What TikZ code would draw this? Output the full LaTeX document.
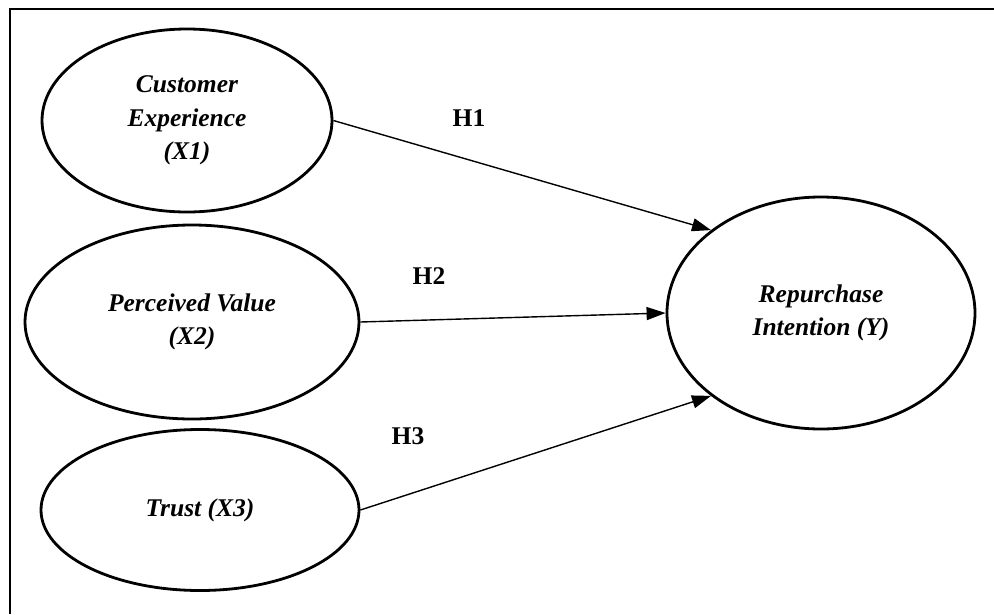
\documentclass[tikz,border=0pt]{standalone}
\usepackage{fontspec}
\setmainfont{Liberation Serif}
\usetikzlibrary{shapes.geometric,arrows.meta}

\begin{document}
\begin{tikzpicture}[x=1pt, y=-1pt,
	latent/.style = {ellipse, draw, line width=2.8pt, inner sep=0pt, align=center, font=\fontsize{25.5}{33.5}\selectfont\bfseries\itshape},
	hyp/.style = {font=\fontsize{25.5}{30}\selectfont\bfseries},
	link/.style = {-{Triangle[length=19pt,width=13pt]}, line width=1.4pt}]
	\useasboundingbox (0,0) rectangle (994,614);
	\draw[line width=2.6pt] (10,614) -- (10,9) -- (994,9);
	\node (cx) at (187,120.5) [latent, minimum width=290pt, minimum height=183pt] {Customer\\Experience\\(X1)};
	\node (pv) at (192,322) [latent, minimum width=334pt, minimum height=194pt] {Perceived Value\\(X2)};
	\node (tr) at (200,510) [latent, minimum width=318pt, minimum height=161pt] {Trust (X3)};
	\node (ri) at (821,313) [latent, minimum width=308pt, minimum height=232pt] {Repurchase\\Intention (Y)};
	\node (h1) at (469,118) [hyp] {H1};
	\node (h2) at (429,276) [hyp] {H2};
	\node (h3) at (408,436) [hyp] {H3};
	\draw[link] (cx.east) -- (ri.143);
	\draw[link] (pv.east) -- (ri.west);
	\draw[link] (tr.east) -- (ri.217);
\end{tikzpicture}
\end{document}
